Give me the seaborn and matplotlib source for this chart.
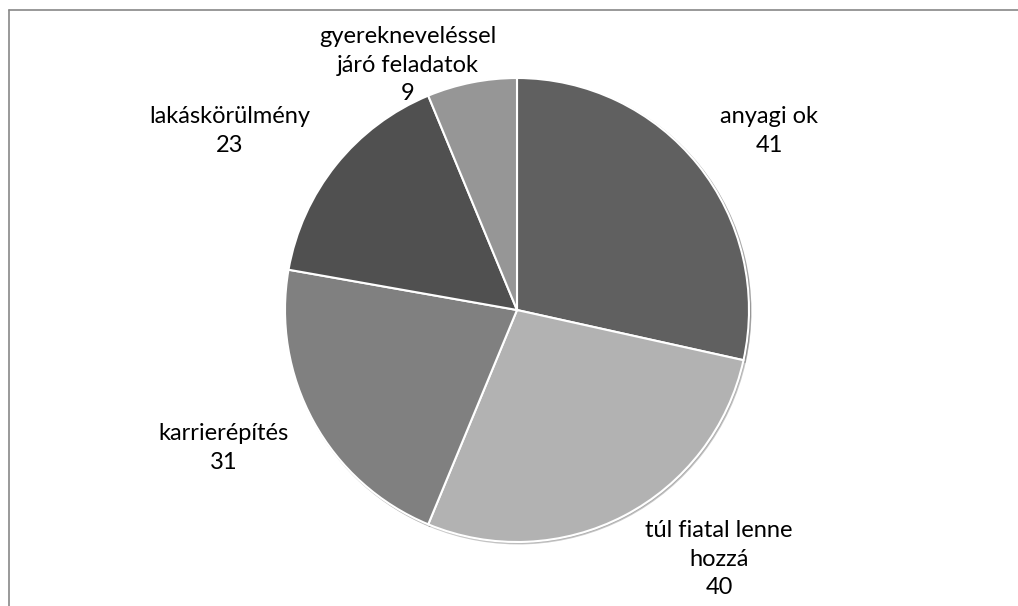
import seaborn as sns
import matplotlib.pyplot as plt
from matplotlib.lines import Line2D

sns.set_theme(style='white')
plt.rcParams['font.family'] = ['Lato', 'DejaVu Sans']

categories = ['anyagi ok', 'túl fiatal lenne\nhozzá', 'karrierépítés',
              'lakáskörülmény', 'gyerekneveléssel\njáró feladatok']
values = [41, 40, 31, 23, 9]
colors = ['#606060', '#b2b2b2', '#808080', '#505050', '#969696']

# label centre offsets from pie centre, in pixels
label_pos = [(252, 179), (202, -249), (-293, -138), (-287, 179), (-109, 245)]

fig = plt.figure(figsize=(10.18, 6.06), dpi=100)
ax = fig.add_axes([0, 0, 1, 1])
cx, cy, r = 517, 296, 232

wedges, _ = ax.pie(values, colors=colors, startangle=90, counterclock=False,
                   radius=r, center=(cx, cy),
                   wedgeprops=dict(edgecolor='white', linewidth=1.5),
                   shadow=dict(ox=1.0, oy=-1.0, shade=0.2))

for cat, v, (dx, dy) in zip(categories, values, label_pos):
    ax.text(cx + dx, cy + dy, f'{cat}\n{v}', ha='center', va='center',
            fontsize=17, color='black', linespacing=1.42)

ax.set_xlim(0, 1018)
ax.set_ylim(0, 606)
ax.set_aspect('equal')
ax.axis('off')

# chart frame (cropped on right and bottom)
fig.add_artist(Line2D([8.5 / 1018, 8.5 / 1018], [0, 1 - 10 / 606],
                      color='#888888', lw=1.2))
fig.add_artist(Line2D([8.5 / 1018, 1], [1 - 10 / 606, 1 - 10 / 606],
                      color='#888888', lw=1.2))

fig.savefig('out.png', dpi=100)
